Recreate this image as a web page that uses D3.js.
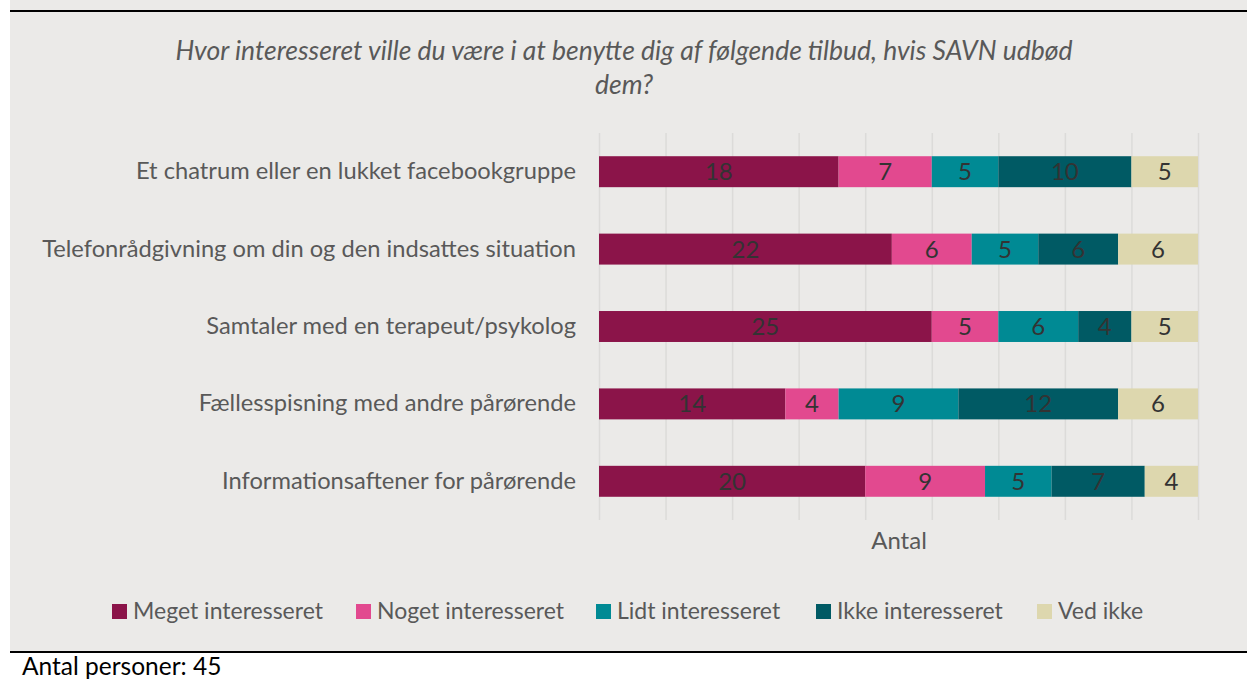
<!DOCTYPE html>
<meta charset="utf-8">
<script src="https://d3js.org/d3.v7.min.js"></script>
<style>
  body { margin: 0; background: #fff; }
  text { font-family: Lato, "Open Sans", sans-serif; }
</style>
<body>
<div id="chart"></div>
<script>
// data
var categories = [
  "Et chatrum eller en lukket facebookgruppe",
  "Telefonrådgivning om din og den indsattes situation",
  "Samtaler med en terapeut/psykolog",
  "Fællesspisning med andre pårørende",
  "Informationsaftener for pårørende"
];
var seriesNames = ["Meget interesseret", "Noget interesseret", "Lidt interesseret", "Ikke interesseret", "Ved ikke"];
var meget = [18, 22, 25, 14, 20];
var noget = [7, 6, 5, 4, 9];
var lidt = [5, 5, 6, 9, 5];
var ikke = [10, 6, 4, 12, 7];
var vedIkke = [5, 6, 5, 6, 4];
var colors = ["#8b1449", "#e2498f", "#008a94", "#005a64", "#ddd7ae"];

var W = 1247, H = 681;
var svg = d3.select("#chart").append("svg")
  .attr("width", W).attr("height", H);

// panel
svg.append("rect").attr("x", 10).attr("y", 0).attr("width", W - 10).attr("height", 652)
  .attr("fill", "#ebeae8");
svg.append("line").attr("x1", 10).attr("x2", W).attr("y1", 11).attr("y2", 11)
  .attr("stroke", "#000").attr("stroke-width", 2);
svg.append("line").attr("x1", 10).attr("x2", W).attr("y1", 652).attr("y2", 652)
  .attr("stroke", "#000").attr("stroke-width", 2);

// title
svg.append("text").attr("x", 624).attr("y", 60).attr("text-anchor", "middle")
  .style("font-size", "26.5px").style("font-style", "italic").attr("fill", "#595959")
  .text("Hvor interesseret ville du være i at benytte dig af følgende tilbud, hvis SAVN udbød");
svg.append("text").attr("x", 624).attr("y", 94).attr("text-anchor", "middle")
  .style("font-size", "26.5px").style("font-style", "italic").attr("fill", "#595959")
  .text("dem?");

// stack the series
var rows = categories.map(function (c, i) {
  return { cat: c, s0: meget[i], s1: noget[i], s2: lidt[i], s3: ikke[i], s4: vedIkke[i] };
});
var stack = d3.stack().keys(["s0", "s1", "s2", "s3", "s4"]);
var layers = stack(rows);

var x = d3.scaleLinear().domain([0, 45]).range([599, 1198]);
var y = d3.scaleBand().domain(categories).range([133, 520]).paddingInner(0.6).paddingOuter(0.3);

// gridlines
svg.append("g")
  .attr("transform", "translate(0,520)")
  .call(d3.axisBottom(x).tickValues(d3.range(0, 46, 5)).tickSize(-387).tickFormat(""))
  .call(function (g) {
    g.select(".domain").remove();
    g.selectAll("line").attr("stroke", "#dcdbd9").attr("stroke-width", 1.5);
  });

// bars
var layer = svg.selectAll(".layer").data(layers).enter().append("g")
  .attr("fill", function (d, i) { return colors[i]; });
layer.selectAll("rect").data(function (d) { return d; }).enter().append("rect")
  .attr("x", function (d) { return x(d[0]); })
  .attr("y", function (d) { return y(d.data.cat); })
  .attr("width", function (d) { return x(d[1]) - x(d[0]); })
  .attr("height", y.bandwidth());
layer.selectAll("text").data(function (d) { return d; }).enter().append("text")
  .attr("x", function (d) { return (x(d[0]) + x(d[1])) / 2; })
  .attr("y", function (d) { return y(d.data.cat) + y.bandwidth() / 2 + 8.5; })
  .attr("text-anchor", "middle")
  .attr("fill", "#333")
  .style("font-size", "24px")
  .text(function (d) { return d[1] - d[0]; });

// category labels
svg.append("g")
  .attr("transform", "translate(576,0)")
  .call(d3.axisLeft(y).tickSize(0).tickPadding(0))
  .call(function (g) {
    g.select(".domain").remove();
    g.selectAll("text").style("font-size", "23.7px").attr("fill", "#595959")
      .style("font-family", "Lato, sans-serif");
  });

// axis title
svg.append("text").attr("x", 899).attr("y", 549).attr("text-anchor", "middle")
  .style("font-size", "24px").attr("fill", "#595959").text("Antal");

// legend
var legendX = [112, 356, 596, 816, 1037];
var leg = svg.selectAll(".leg").data(seriesNames).enter().append("g")
  .attr("transform", function (d, i) { return "translate(" + legendX[i] + ",604)"; });
leg.append("rect").attr("width", 15).attr("height", 15)
  .attr("fill", function (d, i) { return colors[i]; });
leg.append("text").attr("x", 21).attr("y", 15)
  .style("font-size", "23px").attr("fill", "#595959")
  .text(function (d) { return d; });

// footer
svg.append("text").attr("x", 22).attr("y", 675)
  .style("font-size", "24.5px").attr("fill", "#000").text("Antal personer: 45");
</script>
</body>
